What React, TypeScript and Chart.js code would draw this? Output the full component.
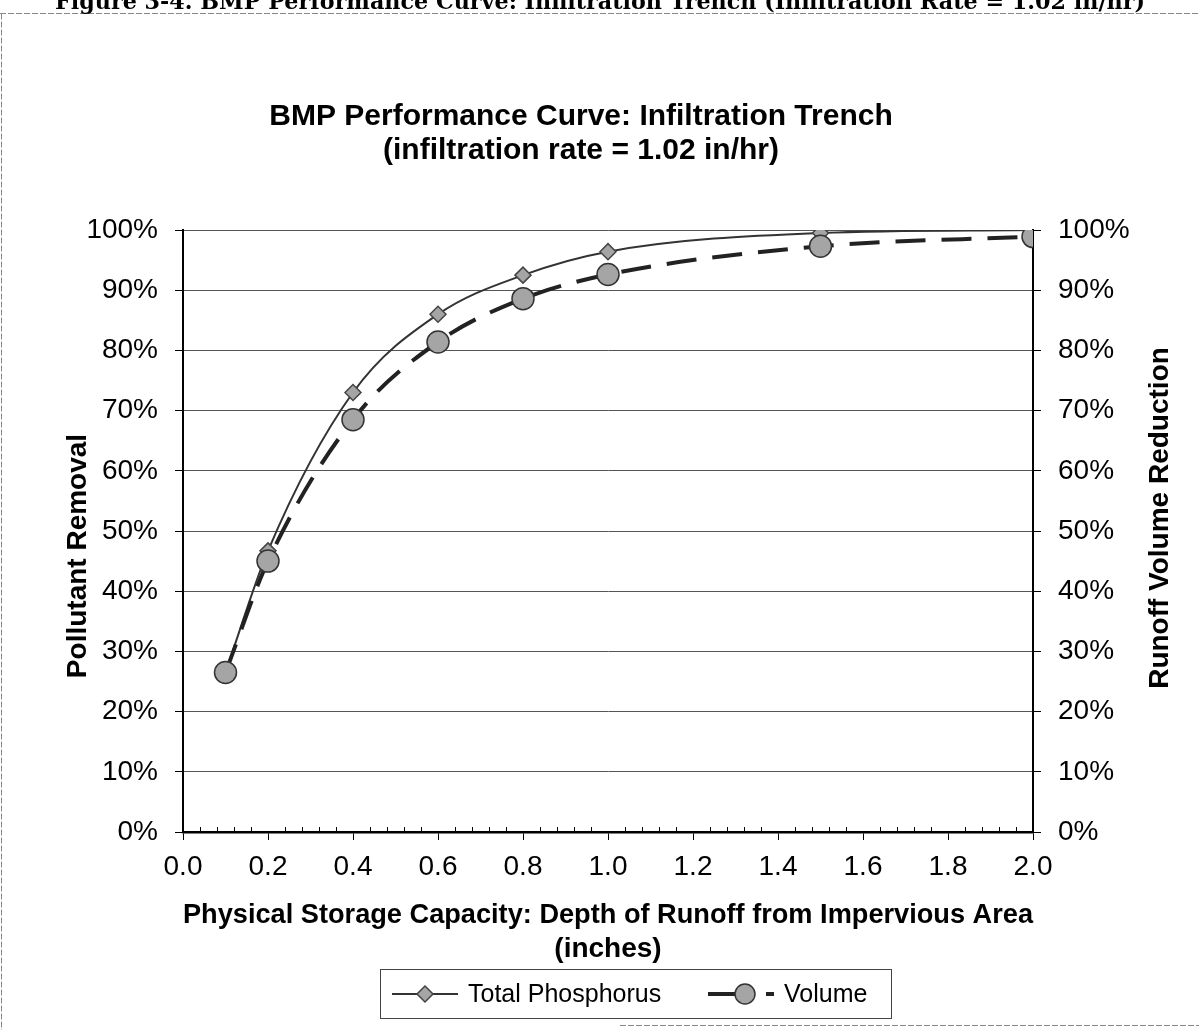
import React, { useEffect, useRef } from "react";
import { Chart, registerables } from "chart.js";
Chart.register(...registerables);

const xValues = [0.1, 0.2, 0.4, 0.6, 0.8, 1.0, 1.5, 2.0];
const phosphorus = [26.5, 46.7, 73, 86, 92.5, 96.4, 99.5, 100];
const volume = [26.5, 45, 68.5, 81.4, 88.6, 92.6, 97.3, 98.9];
const seriesNames = ["Total Phosphorus", "Volume"];
const titleLines = ["BMP Performance Curve: Infiltration Trench", "(infiltration rate = 1.02 in/hr)"];
const xTitleLines = ["Physical Storage Capacity: Depth of Runoff from Impervious Area", "(inches)"];
const leftTitle = "Pollutant Removal";
const rightTitle = "Runoff Volume Reduction";
const caption = "Figure 3-4. BMP Performance Curve: Infiltration Trench (Infiltration Rate = 1.02 in/hr)";

const FAMILY = "'Liberation Sans', Arial, Helvetica, sans-serif";

export default function App() {
  const ref = useRef<HTMLCanvasElement>(null);
  useEffect(() => {
    document.body.style.margin = "0";
    const canvas = ref.current!;
    const decor = {
      id: "decor",
      beforeDraw(chart: any) {
        const ctx = chart.ctx;
        ctx.save();
        ctx.fillStyle = "#fff";
        ctx.fillRect(0, 0, chart.width, chart.height);
        ctx.restore();
      },
      afterDraw(chart: any) {
        const ctx = chart.ctx as CanvasRenderingContext2D;
        const area = chart.chartArea;
        const xs = chart.scales.x;
        ctx.save();
        // frame
        ctx.strokeStyle = "#888";
        ctx.lineWidth = 1;
        ctx.setLineDash([6, 2]);
        ctx.beginPath();
        ctx.moveTo(0, 13.5);
        ctx.lineTo(1199, 13.5);
        ctx.moveTo(1.5, 13.5);
        ctx.lineTo(1.5, 1030);
        ctx.moveTo(620, 1025.5);
        ctx.lineTo(1199, 1025.5);
        ctx.stroke();
        ctx.setLineDash([]);
        // caption (cut at top)
        ctx.fillStyle = "#000";
        let fs = 24;
        ctx.font = `bold ${fs}px 'DejaVu Serif', serif`;
        const w = ctx.measureText(caption).width;
        fs = fs * 1090 / w;
        ctx.font = `bold ${fs}px 'DejaVu Serif', serif`;
        ctx.textAlign = "left";
        ctx.textBaseline = "alphabetic";
        ctx.fillText(caption, 55, 9);
        // minor ticks on x axis
        ctx.strokeStyle = "#000";
        ctx.lineWidth = 1;
        ctx.beginPath();
        for (let i = 0; i <= 50; i++) {
          if (i % 5 === 0) continue;
          const px = Math.round(xs.getPixelForValue(i * 0.04)) + 0.5;
          ctx.moveTo(px, area.bottom);
          ctx.lineTo(px, area.bottom - 5);
        }
        ctx.stroke();
        // main title
        ctx.fillStyle = "#000";
        ctx.font = `bold 30px ${FAMILY}`;
        ctx.textAlign = "center";
        ctx.textBaseline = "middle";
        ctx.fillText(titleLines[0], 581, 117);
        ctx.fillText(titleLines[1], 581, 151);
        // left title
        ctx.font = `bold 28px ${FAMILY}`;
        ctx.save();
        ctx.translate(78, 556);
        ctx.rotate(-Math.PI / 2);
        ctx.fillText(leftTitle, 0, 0);
        ctx.restore();
        // right title
        ctx.save();
        ctx.translate(1160, 518);
        ctx.rotate(-Math.PI / 2);
        ctx.fillText(rightTitle, 0, 0);
        ctx.restore();
        // legend
        ctx.strokeStyle = "#444";
        ctx.lineWidth = 1;
        ctx.strokeRect(380.5, 969.5, 511, 49);
        const cy = 994;
        ctx.strokeStyle = "#333";
        ctx.lineWidth = 2;
        ctx.beginPath();
        ctx.moveTo(392, cy);
        ctx.lineTo(458, cy);
        ctx.stroke();
        ctx.fillStyle = "#a5a5a5";
        ctx.strokeStyle = "#444";
        ctx.lineWidth = 1.5;
        ctx.beginPath();
        ctx.moveTo(425, cy - 8);
        ctx.lineTo(433, cy);
        ctx.lineTo(425, cy + 8);
        ctx.lineTo(417, cy);
        ctx.closePath();
        ctx.fill();
        ctx.stroke();
        ctx.fillStyle = "#000";
        ctx.font = `25px ${FAMILY}`;
        ctx.textAlign = "left";
        ctx.fillText(seriesNames[0], 468, cy + 1);
        ctx.strokeStyle = "#222";
        ctx.lineWidth = 4;
        ctx.beginPath();
        ctx.moveTo(708, cy);
        ctx.lineTo(736, cy);
        ctx.moveTo(766, cy);
        ctx.lineTo(774, cy);
        ctx.stroke();
        ctx.fillStyle = "#a5a5a5";
        ctx.strokeStyle = "#333";
        ctx.lineWidth = 1.5;
        ctx.beginPath();
        ctx.arc(745, cy, 10, 0, Math.PI * 2);
        ctx.fill();
        ctx.stroke();
        ctx.fillStyle = "#000";
        ctx.fillText(seriesNames[1], 784, cy + 1);
        ctx.restore();
      },
    };

    const tickFont = { family: FAMILY, size: 28 };
    const chart = new Chart(canvas, {
      type: "line",
      data: {
        datasets: [
          {
            label: seriesNames[0],
            data: xValues.map((x, i) => ({ x, y: phosphorus[i] })),
            yAxisID: "y",
            borderColor: "#333",
            borderWidth: 2,
            pointStyle: "rectRot",
            pointRadius: 8,
            pointBackgroundColor: "#a5a5a5",
            pointBorderColor: "#444",
            pointBorderWidth: 1.5,
            cubicInterpolationMode: "monotone",
            order: 1,
          },
          {
            label: seriesNames[1],
            data: xValues.map((x, i) => ({ x, y: volume[i] })),
            yAxisID: "y2",
            borderColor: "#222",
            borderWidth: 4,
            borderDash: [30, 16],
            pointStyle: "circle",
            pointRadius: 11,
            pointBackgroundColor: "#a5a5a5",
            pointBorderColor: "#333",
            pointBorderWidth: 1.5,
            cubicInterpolationMode: "monotone",
            order: 0,
          },
        ],
      },
      options: {
        responsive: false,
        animation: false,
        devicePixelRatio: 1,
        layout: { padding: { top: 230, left: 0, right: 0, bottom: 0 } },
        plugins: {
          legend: { display: false },
          title: { display: false },
          tooltip: { enabled: false },
        },
        scales: {
          x: {
            type: "linear",
            min: 0,
            max: 2,
            ticks: {
              stepSize: 0.2,
              callback: (v: any) => Number(v).toFixed(1),
              font: tickFont,
              color: "#000",
              padding: 10,
            },
            grid: { drawOnChartArea: false, drawTicks: true, tickLength: 8, color: "#000" },
            border: { color: "#000", width: 2.5 },
            title: {
              display: true,
              text: xTitleLines,
              font: { family: FAMILY, size: 28, weight: "bold" },
              color: "#000",
              padding: { top: 4, bottom: 64 },
            },
            afterFit: (s: any) => {
              s.height = 198;
            },
          },
          y: {
            position: "left",
            min: 0,
            max: 100,
            ticks: {
              stepSize: 10,
              callback: (v: any) => v + "%",
              font: tickFont,
              color: "#000",
              padding: 17,
            },
            grid: { color: "#555", lineWidth: 1, tickLength: 8, tickColor: "#000" },
            border: { color: "#000", width: 2 },
            afterFit: (s: any) => {
              s.width = 183;
            },
          },
          y2: {
            position: "right",
            min: 0,
            max: 100,
            ticks: {
              stepSize: 10,
              callback: (v: any) => v + "%",
              font: tickFont,
              color: "#000",
              padding: 17,
            },
            grid: { drawOnChartArea: false, tickLength: 8, color: "#000" },
            border: { color: "#000", width: 2 },
            afterFit: (s: any) => {
              s.width = 166;
            },
          },
        },
      } as any,
      plugins: [decor],
    });
    return () => chart.destroy();
  }, []);
  return (
    <div style={{ position: "absolute", left: 0, top: 0, width: 1199, height: 1030, background: "#fff" }}>
      <canvas ref={ref} width={1199} height={1030} style={{ display: "block" }} />
    </div>
  );
}
